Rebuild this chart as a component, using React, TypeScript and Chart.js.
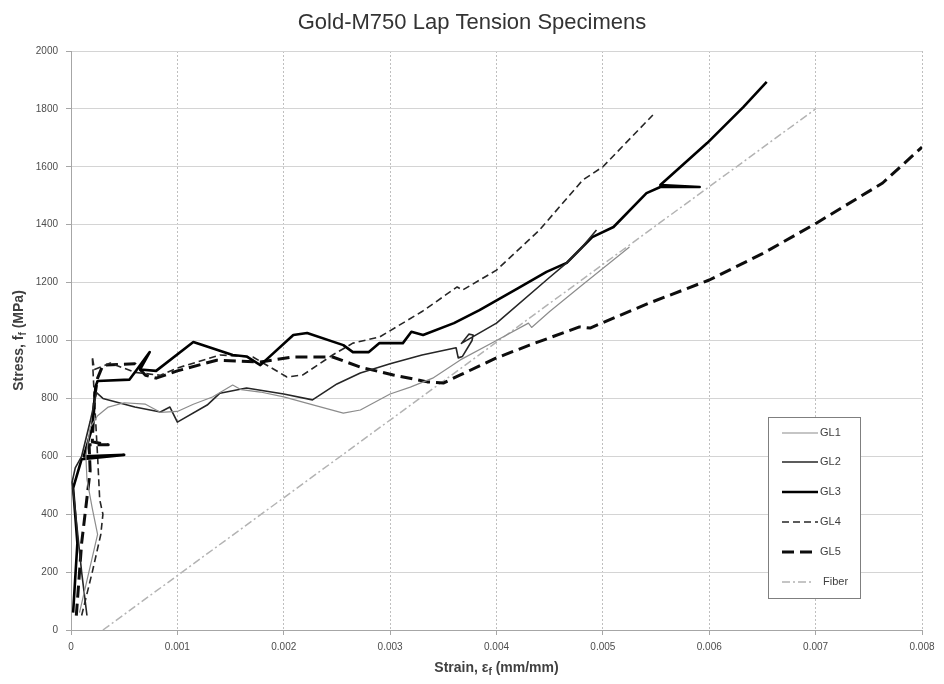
import React, { useEffect, useRef } from "react";
import { Chart, registerables } from "chart.js";

Chart.register(...registerables);

const FAMILY = "'Liberation Sans', Arial, sans-serif";

const chartTitle = "Gold-M750 Lap Tension Specimens";
const seriesNames = ["GL1", "GL2", "GL3", "GL4", "GL5", "Fiber"];

const gl1Strain = [0.00008, 0.00025, 0.0002, 0.00015, 0.00014, 0.00018, 0.00025, 0.00035, 0.0005, 0.0007, 0.00084, 0.001, 0.00115, 0.00133, 0.00152, 0.0016, 0.00178, 0.002, 0.0023, 0.00256, 0.00272, 0.003, 0.00319, 0.0034, 0.00366, 0.004, 0.0043, 0.00433, 0.0045, 0.0048, 0.00525];
const gl1Stress = [60, 330, 420, 520, 600, 700, 740, 770, 785, 780, 752, 755, 780, 805, 846, 830, 822, 805, 775, 749, 760, 815, 839, 870, 933, 1000, 1060, 1045, 1100, 1190, 1323];

const gl2Strain = [0.00015, 0.0001, 0.00003, 0.00001, 0.00004, 0.0001, 0.00018, 0.00024, 0.0003, 0.0006, 0.00084, 0.00093, 0.001, 0.00128, 0.0014, 0.00165, 0.002, 0.00227, 0.0025, 0.00272, 0.003, 0.0033, 0.00362, 0.00364, 0.00368, 0.00377, 0.00378, 0.00374, 0.00367, 0.004, 0.00447, 0.00466, 0.0048, 0.00494];
const gl2Stress = [50, 200, 450, 510, 560, 600, 720, 820, 800, 770, 753, 770, 718, 777, 818, 836, 815, 795, 850, 888, 920, 950, 975, 940, 945, 1000, 1019, 1022, 990, 1060, 1209, 1268, 1320, 1382];

const gl3Strain = [0.00002, 0.00006, 0.00002, 0.0001, 0.0005, 0.00012, 0.0002, 0.00023, 0.00025, 0.00055, 0.00062, 0.00074, 0.00065, 0.0008, 0.00115, 0.00152, 0.00165, 0.00178, 0.00209, 0.00222, 0.00256, 0.00265, 0.0028, 0.0029, 0.00312, 0.0032, 0.00331, 0.0036, 0.00384, 0.0042, 0.00447, 0.00466, 0.0049, 0.0051, 0.00541, 0.00554, 0.00591, 0.00554, 0.00598, 0.00632, 0.00654];
const gl3Stress = [60, 300, 490, 590, 605, 600, 700, 840, 860, 865, 900, 960, 900, 895, 995, 950, 945, 915, 1019, 1026, 984, 960, 960, 991, 991, 1030, 1019, 1060, 1105, 1180, 1237, 1268, 1357, 1392, 1509, 1530, 1530, 1537, 1682, 1806, 1893];

const gl4Strain = [0.0001, 0.0002, 0.00028, 0.0003, 0.00027, 0.00025, 0.00022, 0.0002, 0.00022, 0.00037, 0.0006, 0.00084, 0.001, 0.0014, 0.00171, 0.00203, 0.00218, 0.00246, 0.00265, 0.0029, 0.0033, 0.00363, 0.00368, 0.004, 0.0044, 0.00481, 0.005, 0.00547];
const gl4Stress = [50, 200, 330, 400, 450, 600, 800, 945, 900, 922, 890, 880, 905, 950, 943, 874, 881, 950, 991, 1012, 1100, 1185, 1174, 1243, 1380, 1554, 1600, 1779];

const gl5Strain = [0.00005, 0.0001, 0.00018, 0.00017, 0.00035, 0.0002, 0.00022, 0.00025, 0.0003, 0.0006, 0.0007, 0.0008, 0.001, 0.00137, 0.00178, 0.00209, 0.00246, 0.00272, 0.00303, 0.00335, 0.0035, 0.00366, 0.004, 0.00431, 0.00478, 0.00488, 0.00544, 0.006, 0.0065, 0.00701, 0.00763, 0.008];
const gl5Stress = [50, 300, 550, 640, 640, 650, 800, 870, 915, 920, 880, 870, 895, 932, 926, 943, 943, 908, 881, 857, 853, 881, 940, 984, 1047, 1043, 1130, 1209, 1300, 1406, 1544, 1668];

const fiberStrain = [0.0003, 0.007];
const fiberStress = [0, 1800];

const xTickValues = [0, 0.001, 0.002, 0.003, 0.004, 0.005, 0.006, 0.007, 0.008];
const yTickValues = [0, 200, 400, 600, 800, 1000, 1200, 1400, 1600, 1800, 2000];

const styles = [
  { color: "#8c8c8c", width: 1.2, dash: [] as number[] },
  { color: "#262626", width: 1.6, dash: [] as number[] },
  { color: "#000000", width: 2.6, dash: [] as number[] },
  { color: "#262626", width: 1.6, dash: [7, 4] },
  { color: "#0d0d0d", width: 3, dash: [12, 6] },
  { color: "#b3b3b3", width: 1.5, dash: [8, 3, 2, 3] },
];

const seriesStrain = [gl1Strain, gl2Strain, gl3Strain, gl4Strain, gl5Strain, fiberStrain];
const seriesStress = [gl1Stress, gl2Stress, gl3Stress, gl4Stress, gl5Stress, fiberStress];

function drawParts(ctx: CanvasRenderingContext2D, parts: { t: string; sub?: boolean }[], cx: number, cy: number, size: number) {
  const fonts = parts.map((p) => `bold ${p.sub ? Math.round(size * 0.7) : size}px ${FAMILY}`);
  let total = 0;
  const widths = parts.map((p, i) => {
    ctx.font = fonts[i];
    const w = ctx.measureText(p.t).width;
    total += w;
    return w;
  });
  let x = cx - total / 2;
  ctx.textBaseline = "middle";
  ctx.textAlign = "left";
  parts.forEach((p, i) => {
    ctx.font = fonts[i];
    ctx.fillText(p.t, x, cy + (p.sub ? size * 0.3 : 0));
    x += widths[i];
  });
}

const annotationsPlugin = {
  id: "annotationsPlugin",
  afterDraw(chart: any) {
    const ctx: CanvasRenderingContext2D = chart.ctx;
    const area = chart.chartArea;
    ctx.save();
    ctx.fillStyle = "#404040";
    drawParts(ctx, [{ t: "Strain, \u03b5" }, { t: "f", sub: true }, { t: " (mm/mm)" }], (area.left + area.right) / 2, 668, 14);
    ctx.translate(19, (area.top + area.bottom) / 2);
    ctx.rotate(-Math.PI / 2);
    drawParts(ctx, [{ t: "Stress, f" }, { t: "f", sub: true }, { t: " (MPa)" }], 0, 0, 14);
    ctx.restore();

    ctx.save();
    const bx = 768, by = 417, bw = 92, bh = 181;
    ctx.fillStyle = "#ffffff";
    ctx.fillRect(bx, by, bw, bh);
    ctx.strokeStyle = "#7f7f7f";
    ctx.lineWidth = 1;
    ctx.strokeRect(bx + 0.5, by + 0.5, bw, bh);
    const rows = [433, 462, 492, 522, 552, 582];
    seriesNames.forEach((name, i) => {
      const s = styles[i];
      ctx.beginPath();
      ctx.setLineDash(s.dash);
      ctx.lineWidth = s.width;
      ctx.strokeStyle = s.color;
      ctx.moveTo(782, rows[i]);
      ctx.lineTo(i === 5 ? 812 : 818, rows[i]);
      ctx.stroke();
      ctx.setLineDash([]);
      ctx.fillStyle = "#404040";
      ctx.font = `11px ${FAMILY}`;
      ctx.textBaseline = "middle";
      ctx.textAlign = "left";
      ctx.fillText(name, i === 5 ? 823 : 820, rows[i]);
    });
    ctx.restore();
  },
};

export default function App() {
  const canvasRef = useRef<HTMLCanvasElement | null>(null);

  useEffect(() => {
    if (!canvasRef.current) return;
    const datasets = seriesNames.map((name, i) => ({
      label: name,
      data: seriesStrain[i].map((x, j) => ({ x, y: seriesStress[i][j] })),
      borderColor: styles[i].color,
      backgroundColor: styles[i].color,
      borderWidth: styles[i].width,
      borderDash: styles[i].dash,
      borderJoinStyle: "round" as const,
      pointRadius: 0,
      fill: false,
      tension: 0,
      showLine: true,
    }));
    const chart = new Chart(canvasRef.current, {
      type: "line",
      data: { datasets },
      options: {
        responsive: false,
        animation: false,
        events: [],
        layout: { padding: { left: 22, right: 22, top: 0, bottom: 0 } },
        plugins: {
          legend: { display: false },
          tooltip: { enabled: false },
          title: {
            display: true,
            text: chartTitle,
            color: "#333333",
            font: { family: FAMILY, size: 22, weight: "normal" },
            padding: { top: 10, bottom: 14.6 },
          },
        },
        scales: {
          x: {
            type: "linear",
            min: 0,
            max: 0.008,
            afterFit: (scale: any) => {
              scale.height = 54;
            },
            afterBuildTicks: (scale: any) => {
              scale.ticks = xTickValues.map((v) => ({ value: v }));
            },
            ticks: {
              autoSkip: false,
              maxRotation: 0,
              padding: 6,
              color: "#4d4d4d",
              font: { family: FAMILY, size: 10 },
              callback: (v: any) => (Number(v) === 0 ? "0" : Number(v).toFixed(3)),
            },
            grid: { color: "#bfbfbf", lineWidth: 1, tickLength: 5, tickColor: "#a6a6a6" },
            border: { color: "#a6a6a6", dash: [2, 2] },
          },
          y: {
            type: "linear",
            min: 0,
            max: 2000,
            afterFit: (scale: any) => {
              scale.width = 49;
            },
            afterBuildTicks: (scale: any) => {
              scale.ticks = yTickValues.map((v) => ({ value: v }));
            },
            ticks: {
              padding: 8,
              color: "#4d4d4d",
              font: { family: FAMILY, size: 10 },
              callback: (v: any) => String(v),
            },
            grid: { color: "#d4d4d4", lineWidth: 1, tickLength: 5, tickColor: "#a6a6a6" },
            border: { color: "#a6a6a6" },
          },
        },
      },
      plugins: [annotationsPlugin],
    });
    return () => chart.destroy();
  }, []);

  return (
    <div style={{ position: "fixed", left: 0, top: 0, width: 944, height: 684, background: "#ffffff" }}>
      <canvas ref={canvasRef} width={944} height={684} style={{ display: "block" }} />
    </div>
  );
}
